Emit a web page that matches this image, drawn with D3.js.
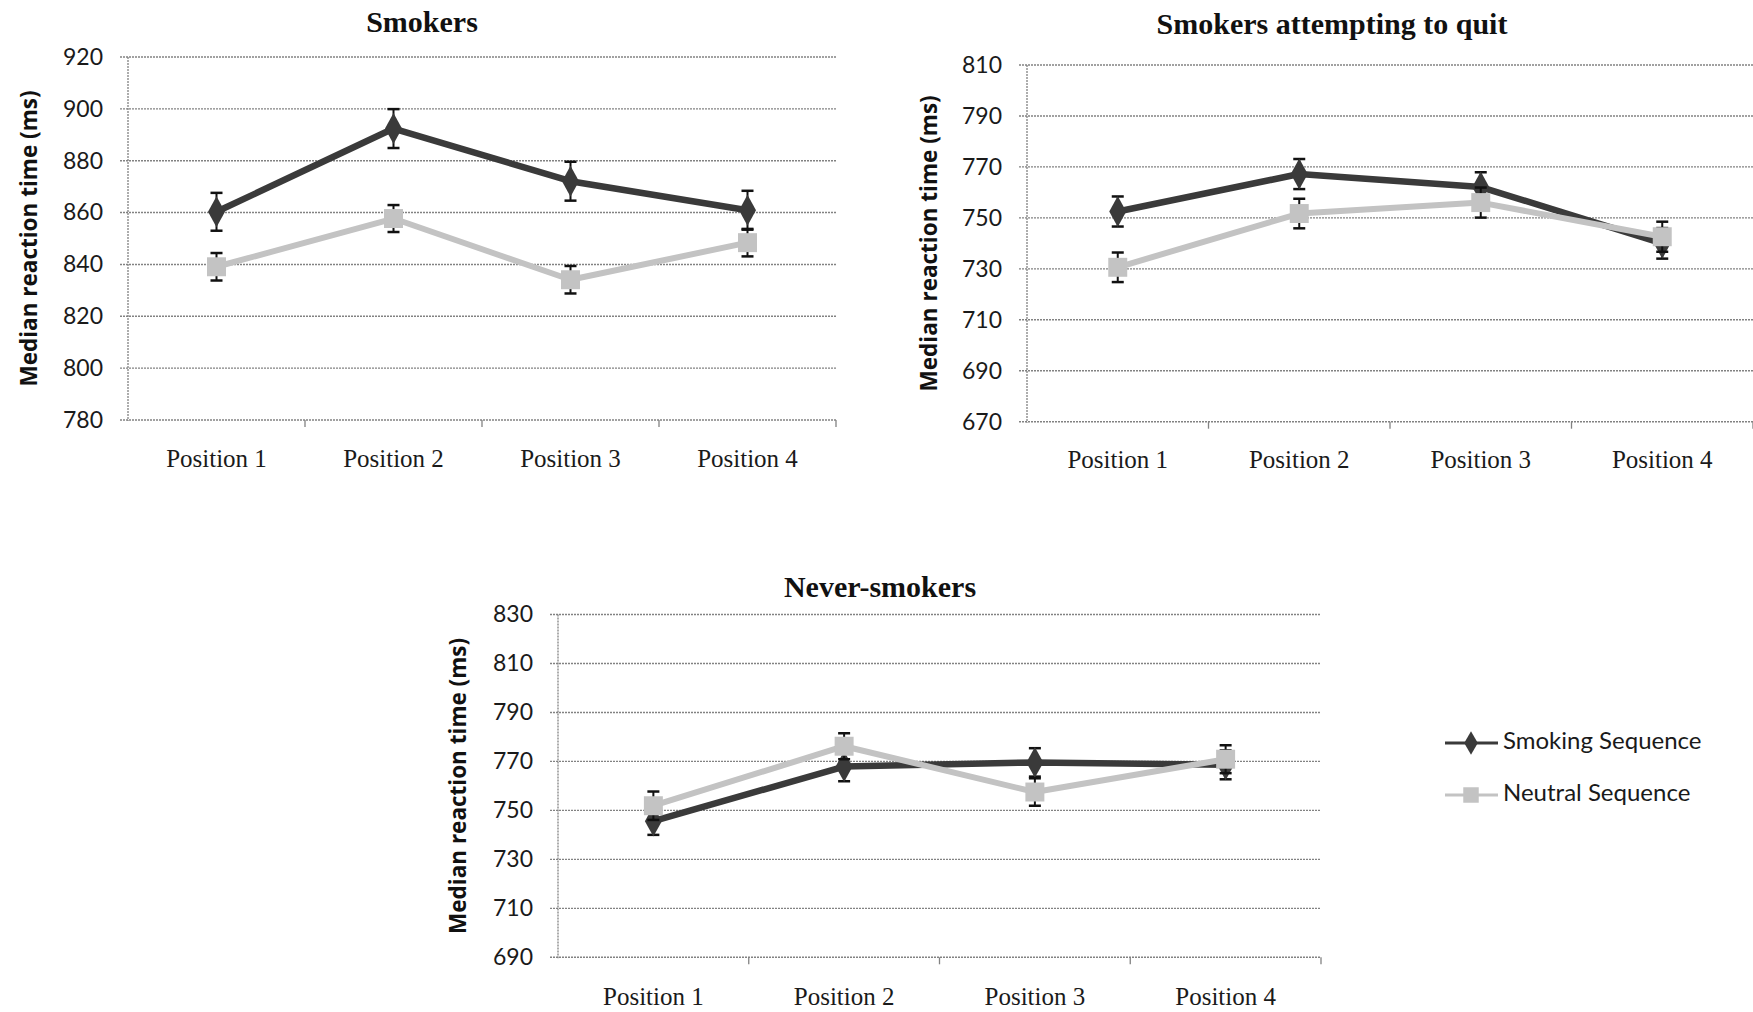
<!DOCTYPE html>
<html>
<head>
<meta charset="utf-8">
<script src="https://cdn.jsdelivr.net/npm/d3@7"></script>
<style>
  html, body { margin: 0; padding: 0; background: #ffffff; }
  svg { display: block; }
</style>
</head>
<body>
<svg id="chart" width="1753" height="1012"></svg>
<script>
// ---------------- data ----------------
const categories = ["Position 1", "Position 2", "Position 3", "Position 4"];
const seriesNames = ["Smoking Sequence", "Neutral Sequence"];
const panelTitles = ["Smokers", "Smokers attempting to quit", "Never-smokers"];
const yAxisTitle = "Median reaction time (ms)";

const smokersTicks = [780, 800, 820, 840, 860, 880, 900, 920];
const quitTicks = [670, 690, 710, 730, 750, 770, 790, 810];
const neverTicks = [690, 710, 730, 750, 770, 790, 810, 830];

const smokersSmoking = [860.3, 892.4, 872.1, 860.9];
const smokersSmokingErr = [7.3, 7.5, 7.5, 7.5];
const smokersNeutral = [839.1, 857.7, 834.1, 848.4];
const smokersNeutralErr = [5.3, 5.2, 5.3, 5.3];

const quitSmoking = [752.5, 767.2, 762.1, 740.0];
const quitSmokingErr = [5.9, 5.9, 5.8, 6.0];
const quitNeutral = [730.6, 751.7, 756.0, 742.6];
const quitNeutralErr = [5.8, 5.8, 5.9, 5.9];

const neverSmoking = [745.6, 767.9, 769.6, 768.6];
const neverSmokingErr = [5.6, 6.0, 5.8, 5.9];
const neverNeutral = [751.9, 776.2, 757.5, 770.9];
const neverNeutralErr = [5.8, 5.3, 5.6, 5.7];

// ---------------- styles ----------------
const COL_SMOKE = "#3a3a3a";
const COL_NEUTRAL = "#c3c3c3";
const COL_GRID = "#828282";
const FONT_SANS = "Lato, 'Open Sans', sans-serif";
const FONT_SERIF = "'Liberation Serif', 'DejaVu Serif', serif";

const svg = d3.select("#chart");

const panels = [
  { title: panelTitles[0], ticks: smokersTicks,
    series: [[smokersSmoking, smokersSmokingErr], [smokersNeutral, smokersNeutralErr]],
    left: 128, right: 836, top: 57, bottom: 420, titleY: 32, titleCX: 422, yTitleX: 31, xLabelY: 467 },
  { title: panelTitles[1], ticks: quitTicks,
    series: [[quitSmoking, quitSmokingErr], [quitNeutral, quitNeutralErr]],
    left: 1027, right: 1753, top: 65, bottom: 421.7, titleY: 34, titleCX: 1332, yTitleX: 931, xLabelY: 468 },
  { title: panelTitles[2], ticks: neverTicks,
    series: [[neverSmoking, neverSmokingErr], [neverNeutral, neverNeutralErr]],
    left: 558, right: 1321, top: 614.5, bottom: 957.3, titleY: 597, titleCX: 880, yTitleX: 460, xLabelY: 1005 }
];

function drawPanel(p) {
  const g = svg.append("g");
  const x = d3.scaleBand().domain(categories).range([p.left, p.right]).padding(0);
  const y = d3.scaleLinear().domain([p.ticks[0], p.ticks[p.ticks.length - 1]]).range([p.bottom, p.top]);
  const cx = c => x(c) + x.bandwidth() / 2;

  // gridlines (extend left as tick marks)
  g.append("g").selectAll("line").data(p.ticks).join("line")
    .attr("x1", p.left - 8).attr("x2", p.right)
    .attr("y1", d => y(d)).attr("y2", d => y(d))
    .attr("stroke", COL_GRID).attr("stroke-width", 1.4)
    .attr("stroke-dasharray", "2,1");

  // y axis line
  g.append("line")
    .attr("x1", p.left).attr("x2", p.left).attr("y1", p.top).attr("y2", p.bottom + 1)
    .attr("stroke", COL_GRID).attr("stroke-width", 1.3).attr("stroke-dasharray", "2,1");

  // y tick labels via axis
  const yAxis = d3.axisLeft(y).tickValues(p.ticks).tickSize(0).tickPadding(25).tickFormat(d3.format("d"));
  const ya = g.append("g").attr("transform", `translate(${p.left},0)`).call(yAxis);
  ya.select(".domain").remove();
  ya.selectAll("text").attr("font-family", FONT_SANS).attr("font-size", 23).attr("fill", "#1a1a1a");

  // x boundary ticks
  const bounds = categories.map(c => x(c)).concat([x(categories[categories.length - 1]) + x.bandwidth()]);
  g.append("g").selectAll("line").data(bounds.slice(1)).join("line")
    .attr("x1", d => d).attr("x2", d => d)
    .attr("y1", p.bottom).attr("y2", p.bottom + 7)
    .attr("stroke", COL_GRID).attr("stroke-width", 1.3);

  // x labels via axis
  const xAxis = d3.axisBottom(x).tickSize(0).tickPadding(0);
  const xa = g.append("g").attr("transform", `translate(0,${p.xLabelY})`).call(xAxis);
  xa.select(".domain").remove();
  xa.selectAll("text").attr("font-family", FONT_SERIF).attr("font-size", 25).attr("fill", "#1a1a1a")
    .attr("dy", 0).attr("y", 0);

  // title
  g.append("text")
    .attr("x", p.titleCX)
    .attr("y", p.titleY)
    .attr("text-anchor", "middle")
    .attr("font-family", FONT_SERIF).attr("font-weight", "bold").attr("font-size", 30)
    .attr("fill", "#111").text(p.title);

  // y axis title
  g.append("text")
    .attr("transform", `translate(${p.yTitleX},${(p.top + p.bottom) / 2}) rotate(-90)`)
    .attr("text-anchor", "middle").attr("dominant-baseline", "middle")
    .attr("font-family", "'Open Sans', sans-serif").attr("font-weight", "bold").attr("font-size", 22.5)
    .attr("fill", "#111").text(yAxisTitle);

  // series
  const line = d3.line().x((d, i) => cx(categories[i])).y(d => y(d));
  p.series.forEach((s, si) => {
    const vals = s[0], errs = s[1];
    const color = si === 0 ? COL_SMOKE : COL_NEUTRAL;
    const sg = g.append("g");
    sg.append("path").datum(vals).attr("d", line)
      .attr("fill", "none").attr("stroke", color).attr("stroke-width", si === 0 ? 6.5 : 6)
      .attr("stroke-linejoin", "round");
    // error bars
    const eb = sg.append("g").selectAll("g").data(vals).join("g");
    eb.append("line")
      .attr("x1", (d, i) => cx(categories[i])).attr("x2", (d, i) => cx(categories[i]))
      .attr("y1", (d, i) => y(d + errs[i])).attr("y2", (d, i) => y(d - errs[i]))
      .attr("stroke", "#111").attr("stroke-width", 2);
    [1, -1].forEach(sign => {
      eb.append("line")
        .attr("x1", (d, i) => cx(categories[i]) - 6).attr("x2", (d, i) => cx(categories[i]) + 6)
        .attr("y1", (d, i) => y(d + sign * errs[i])).attr("y2", (d, i) => y(d + sign * errs[i]))
        .attr("stroke", "#111").attr("stroke-width", 2.5);
    });
    // markers
    const sym = d3.symbol().type(si === 0 ? d3.symbolDiamond : d3.symbolSquare).size(si === 0 ? 250 : 360);
    sg.append("g").selectAll("path").data(vals).join("path")
      .attr("transform", (d, i) => `translate(${cx(categories[i])},${y(d)})` + (si === 0 ? " scale(1,1.05)" : ""))
      .attr("d", sym)
      .attr("fill", si === 0 ? COL_SMOKE : COL_NEUTRAL);
  });
}

panels.forEach(drawPanel);

// legend
const legend = svg.append("g");
const legendY = [743, 795];
seriesNames.forEach((name, i) => {
  const color = i === 0 ? COL_SMOKE : COL_NEUTRAL;
  legend.append("line").attr("x1", 1445).attr("x2", 1498).attr("y1", legendY[i]).attr("y2", legendY[i])
    .attr("stroke", color).attr("stroke-width", 3);
  legend.append("path")
    .attr("transform", `translate(1471,${legendY[i]})`)
    .attr("d", d3.symbol().type(i === 0 ? d3.symbolDiamond : d3.symbolSquare).size(i === 0 ? 160 : 240))
    .attr("fill", color);
  legend.append("text").attr("x", 1503).attr("y", legendY[i])
    .attr("dominant-baseline", "middle")
    .attr("font-family", FONT_SANS).attr("font-size", 24).attr("fill", "#1a1a1a").text(name);
});
</script>
</body>
</html>
